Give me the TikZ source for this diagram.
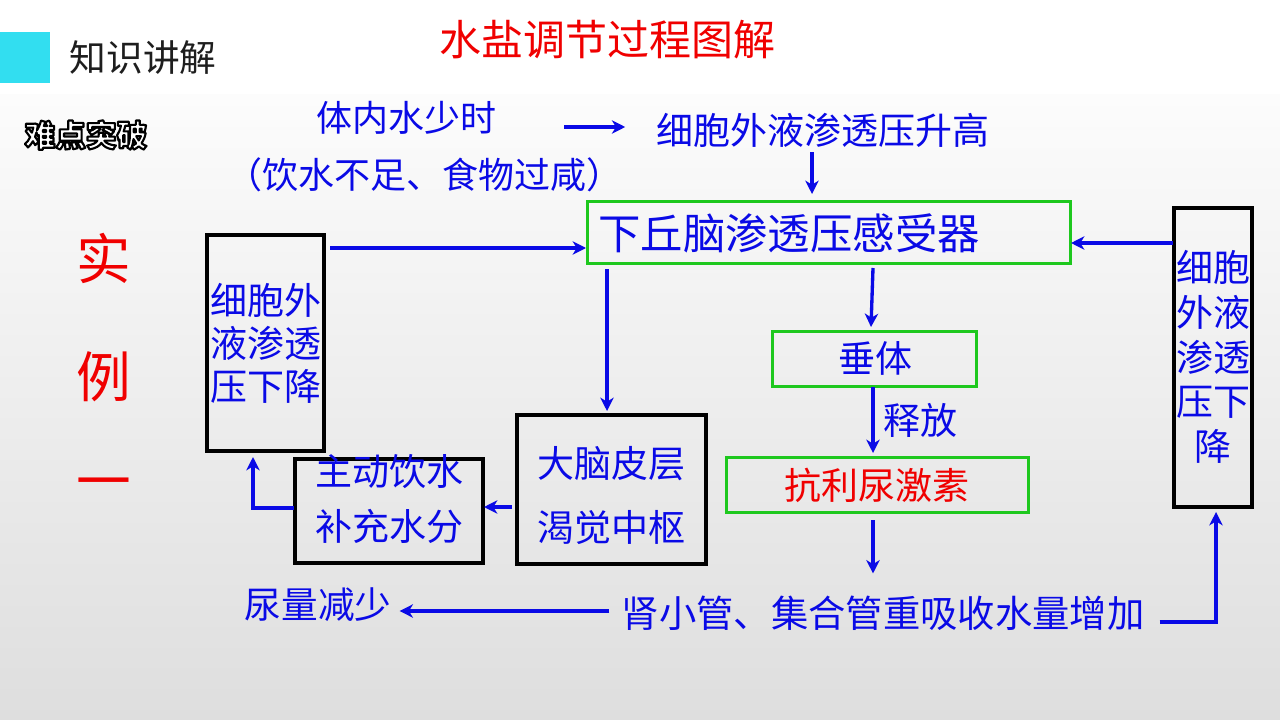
\documentclass[tikz,border=0pt]{standalone}
\usepackage{fontspec}
\setmainfont{Noto Sans CJK SC}
\usetikzlibrary{arrows.meta,calc}
\definecolor{tblue}{RGB}{10,10,230}
\definecolor{tgreen}{RGB}{30,200,30}
\definecolor{tred}{RGB}{240,0,0}
\definecolor{tcyan}{RGB}{50,222,240}
\definecolor{bgtop}{RGB}{252,252,252}
\definecolor{bgbot}{RGB}{222,222,222}
\newcommand\outlinetext[1]{\special{pdf:literal direct 2 Tr 1.6 w 1 j 0 0 0 RG 1 1 1 rg}#1\special{pdf:literal direct 0 Tr}}
\begin{document}
\begin{tikzpicture}[x=0.75pt,y=-0.75pt,
  txt/.style={text=tblue, font=\fontsize{27.75pt}{32.25pt}\selectfont, inner sep=0pt, align=center},
  redtxt/.style={text=tred, inner sep=0pt, align=center},
  gbox/.style={draw=tgreen, line width=2.25pt, inner sep=0pt, outer sep=0pt},
  kbox/.style={draw=black, line width=3pt, inner sep=0pt, outer sep=0pt},
  arr/.style={draw=tblue, line width=2.5pt, -{Stealth[length=10pt,width=10pt,inset=3pt]}},
]
\useasboundingbox (0,0) rectangle (1280,720);
% background
\fill[white] (0,0) rectangle (1280,95);
\shade[top color=bgtop, bottom color=bgbot] (0,95) rectangle (1280,720);

% header
\fill[tcyan] (0,32) rectangle (50,83);
\node[inner sep=0pt, text={rgb,255:red,30;green,30;blue,30}, font=\fontsize{27.5pt}{30pt}\selectfont] (head) at (143,58) {知识讲解};
\node[inner sep=0pt, text=white, font=\fontsize{23pt}{26pt}\selectfont\bfseries] (badge) at (86,135) {\outlinetext{难点突破}};

% title
\node[redtxt, font=\fontsize{31.5pt}{34pt}\selectfont] (title) at (607,40) {水盐调节过程图解};

% example label
\node[redtxt, font=\fontsize{41pt}{44pt}\selectfont] (ex1) at (104,258) {实};
\node[redtxt, font=\fontsize{41pt}{44pt}\selectfont] (ex2) at (104,377) {例};
\node[redtxt, font=\fontsize{41pt}{44pt}\selectfont] (ex3) at (104,490) {一};

% top texts
\node[txt, font=\fontsize{27pt}{30pt}\selectfont] (T1) at (406,118) {体内水少时};
\node[txt, font=\fontsize{27pt}{30pt}\selectfont] (T2) at (424,175) {（饮水不足、食物过咸）};
\node[txt] (T3) at (823,130) {细胞外液渗透压升高};

% boxes
\node[gbox, minimum width=362.25pt, minimum height=45.75pt] (H) at (828.5,232.5) {};
\node[txt, anchor=west, font=\fontsize{31.8pt}{34pt}\selectfont] (Ht) at (598,233) {下丘脑渗透压感受器};

\node[kbox, minimum width=87.75pt, minimum height=162pt] (L) at (265.5,343) {};
\node[txt] (Lt) at (265.5,343) {细胞外\\液渗透\\压下降};

\node[kbox, minimum width=58.5pt, minimum height=224.25pt] (R) at (1213,357.5) {};
\node[txt, font=\fontsize{27.75pt}{33.5pt}\selectfont] (Rt) at (1213,357) {细胞\\外液\\渗透\\压下\\降};

\node[kbox, minimum width=141.75pt, minimum height=111.75pt] (B) at (611.5,489.5) {};
\node[txt, font=\fontsize{27.75pt}{48pt}\selectfont] (Bt) at (611.5,495) {大脑皮层\\渴觉中枢};

\node[kbox, line width=2.5pt, minimum width=141pt, minimum height=78pt] (D) at (389,511) {};
\node[txt, font=\fontsize{27.75pt}{41pt}\selectfont] (Dt) at (389,499) {主动饮水\\补充水分};

\node[gbox, minimum width=153pt, minimum height=41.25pt] (P) at (874,358.5) {};
\node[txt] (Pt) at (875,358) {垂体};
\node[txt] (rel) at (920,420) {释放};

\node[gbox, minimum width=226.5pt, minimum height=41.25pt] (A) at (877,484.5) {};
\node[txt, text=tred] (At) at (877,485) {抗利尿激素};

\node[txt, font=\fontsize{28pt}{31pt}\selectfont] (K) at (883,613) {肾小管、集合管重吸收水量增加};
\node[txt, font=\fontsize{27.5pt}{30pt}\selectfont] (U) at (318,605) {尿量减少};

% arrows
\draw[arr] ($(T1.east |- T3.west)+(68,-3)$) -- ($(T3.west)+(-31,-3)$);
\draw[arr] ($(T3.south)+(-11,5)$) -- ($(H.north)+(-16.5,-8)$);
\draw[arr] ($(L.north east)+(6,13)$) -- ($(H.west)+(-1,15.5)$);
\draw[arr] ($(R.north west)+(-1,35)$) -- ($(H.east)+(1,10.5)$);
\draw[arr] ($(H.south west)+(20,6)$) -- ($(B.north)+(-4.5,-4)$);
\draw[arr] ($(H.south)+(44.5,5)$) -- ($(P.north)+(-3,-4)$);
\draw[arr] ($(P.south)+(-1,1)$) -- ($(A.north)+(-4,-4)$);
\draw[arr] ($(A.south)+(-4,8)$) -- ($(K.north)+(-10,-22)$);
\draw[arr] ($(K.west)+(-12,-2)$) -- ($(U.east)+(8,6)$);
\draw[arr] ($(B.west)+(-5,17.5)$) -- ($(D.east)+(1,-4)$);
\draw[arr] ($(D.west)+(-1,-3)$) -| ($(L.south)+(-12.5,6)$);
\draw[arr] ($(K.east)+(15,9)$) -| ($(R.south)+(3,5)$);
\end{tikzpicture}
\end{document}
